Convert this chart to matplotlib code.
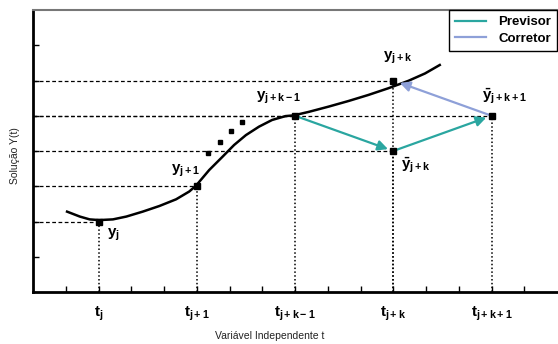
import matplotlib
matplotlib.use("Agg")
import matplotlib.pyplot as plt

# bold sans for the math labels
plt.rcParams['mathtext.fontset'] = 'custom'
plt.rcParams['mathtext.rm'] = 'Liberation Sans:bold'
plt.rcParams['mathtext.it'] = 'Liberation Sans:bold'
plt.rcParams['mathtext.bf'] = 'Liberation Sans:bold'
plt.rcParams['font.family'] = ['Liberation Sans', 'DejaVu Sans']

# solution curve y(t)
curve_t = [1.04, 1.43, 1.73, 2.02, 2.44, 2.85, 3.35, 3.86, 4.37, 4.77, 4.98,
           5.38, 5.79, 6.14, 6.5, 6.9, 7.3, 7.71, 7.96,
           8.42, 9.03, 9.64, 10.24, 10.85, 11.46, 11.97, 12.42]
curve_y = [2.28, 2.14, 2.06, 2.04, 2.06, 2.14, 2.28, 2.44, 2.63, 2.85, 3.02,
           3.46, 3.84, 4.17, 4.45, 4.69, 4.88, 4.99, 5.01,
           5.11, 5.26, 5.42, 5.59, 5.78, 5.99, 6.2, 6.44]

# small dots between y_{j+1} and y_{j+k-1}
dots_t = [5.33, 5.7, 6.06, 6.39]
dots_y = [3.93, 4.26, 4.57, 4.83]

# marked points
pts_t = [2, 5, 8, 11, 11, 14]
pts_y = [2, 3, 5, 6, 4, 5]

# predictor / corrector steps
prev_t = [8, 11, 14]
prev_y = [5, 4, 5]
corr_t = [14, 11]
corr_y = [5, 6]

xtick_pos = list(range(1, 16))
xtick_named = {2: r'$t_j$', 5: r'$t_{j+1}$', 8: r'$t_{j+k-1}$', 11: r'$t_{j+k}$', 14: r'$t_{j+k+1}$'}
ytick_pos = list(range(1, 8))

point_labels = [r'$y_j$', r'$y_{j+1}$', r'$y_{j+k-1}$', r'$y_{j+k}$',
                r'$\bar{y}_{j+k}$', r'$\bar{y}_{j+k+1}$']
label_t = [2.25, 4.65, 7.5, 11.15, 11.68, 14.4]
label_y = [1.62, 3.45, 5.5, 6.64, 3.6, 5.55]
label_ha = ['left', 'center', 'center', 'center', 'center', 'center']

teal = '#2aa6a0'
lav = '#8ea0d8'

fig = plt.figure(figsize=(5.58, 3.44), dpi=100)
ax = fig.add_axes([33 / 558, 52 / 344, 524 / 558, 282 / 344])
ax.set_xlim(0, 16)
ax.set_ylim(0, 8)

# guide lines from axes to each point
for t, y in zip(pts_t, pts_y):
    ax.plot([0, t], [y, y], color='black', lw=0.9, linestyle=(0, (3, 2)), zorder=1)
    ax.plot([t, t], [0, y], color='black', lw=1.1, linestyle=(0, (1, 1.5)), zorder=1)

ax.plot(curve_t, curve_y, color='black', lw=1.8, zorder=3, solid_joinstyle='round')
ax.plot(dots_t, dots_y, 's', color='black', ms=2.5, zorder=3)

# arrows
for i in range(len(prev_t) - 1):
    ax.annotate('', xy=(prev_t[i + 1], prev_y[i + 1]), xytext=(prev_t[i], prev_y[i]),
                arrowprops=dict(arrowstyle='-|>', color=teal, lw=1.6, mutation_scale=15,
                                shrinkA=0, shrinkB=4), zorder=4)
ax.annotate('', xy=(corr_t[1], corr_y[1]), xytext=(corr_t[0], corr_y[0]),
            arrowprops=dict(arrowstyle='-|>', color=lav, lw=1.6, mutation_scale=15,
                            shrinkA=0, shrinkB=5), zorder=4)

ax.plot(pts_t, pts_y, 's', color='black', ms=5, zorder=5)

for s, t, y, ha in zip(point_labels, label_t, label_y, label_ha):
    ax.text(t, y, s, fontsize=11, ha=ha, va='center', color='black')

# legend
ax.plot([], [], color=teal, lw=1.6, label='Previsor')
ax.plot([], [], color=lav, lw=1.6, label='Corretor')
leg = ax.legend(loc='upper right', borderaxespad=0, fancybox=False, edgecolor='black',
                prop={'weight': 'bold', 'size': 9.5}, handlelength=2.4, handletextpad=0.9,
                borderpad=0.45, labelspacing=0.35, framealpha=1)
leg.get_frame().set_linewidth(1.0)

ax.set_xticks(xtick_pos)
ax.set_xticklabels([xtick_named.get(p, '') for p in xtick_pos], fontsize=11)
ax.set_yticks(ytick_pos)
ax.set_yticklabels([])
ax.tick_params(direction='in', length=4, width=1, pad=9)

for side in ['left', 'bottom']:
    ax.spines[side].set_linewidth(2)
ax.spines['top'].set_color('#777777')
ax.spines['top'].set_linewidth(1.5)
ax.spines['right'].set_visible(False)

fig.text(270 / 558, 1 - 336 / 344, 'Variável Independente t', fontsize=7.5, ha='center', va='center', color='#222222')
fig.text(15 / 558, 1 - 156 / 344, 'Solução Y(t)', fontsize=7.5, ha='center', va='center', rotation=90, color='#222222')

fig.savefig('out.png', dpi=100)
